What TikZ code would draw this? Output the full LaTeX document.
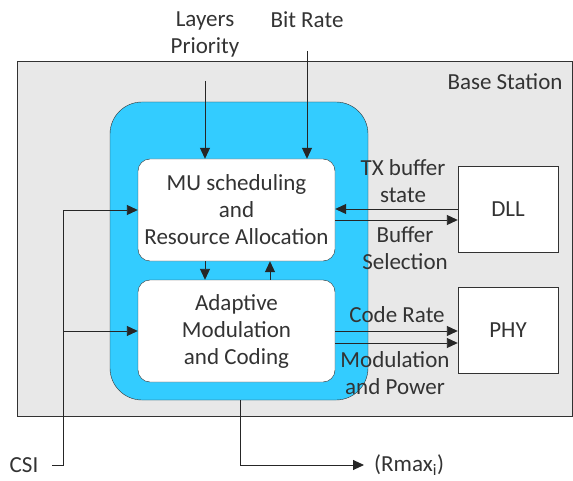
\documentclass[tikz,border=0pt]{standalone}
\usepackage{fontspec}
\setmainfont{Carlito}
\usepackage{tikz}
\usetikzlibrary{arrows.meta}
\definecolor{bsgray}{RGB}{232,232,232}
\definecolor{coreblue}{RGB}{51,204,255}
\definecolor{edge}{RGB}{50,50,50}

\begin{document}
\begin{tikzpicture}[x=1pt, y=1pt,
        every node/.style={font=\fontsize{23}{27}\selectfont, text=black!80},
        block/.style={draw=edge, fill=white, rounded corners=12pt, minimum width=197pt, minimum height=102pt, align=center, inner sep=0pt},
        unit/.style={draw=edge, fill=white, minimum width=100pt, minimum height=86pt, inner sep=0pt},
        lbl/.style={align=center, inner sep=0pt},
        link/.style={draw=black!85, line width=0.9pt, -{Triangle[length=11pt, width=10pt]}},
        wire/.style={draw=black!85, line width=0.9pt}]
        \useasboundingbox (0, 0) rectangle (573, 480);
        % base station and scheduler core
        \node[draw=edge, fill=bsgray, minimum width=555pt, minimum height=355pt, inner sep=0pt] (bs) at (294.5, 241.5) {};
        \node[lbl] (bslabel) at (505, 398) {Base Station};
        \node[draw=edge, fill=coreblue, rounded corners=32pt, minimum width=258pt, minimum height=298pt, inner sep=0pt] (core) at (239, 229) {};
        \node[block] (mu) at (236.5, 270) {MU scheduling\\and\\Resource Allocation};
        \node[block] (amc) at (236.5, 149) {Adaptive\\Modulation\\and Coding};
        \node[unit] (dll) at (508, 271) {DLL};
        \node[unit] (phy) at (508, 150) {PHY};
        % inputs on top
        \node[lbl] (prio) at (205, 446) {Layers\\Priority};
        \node[lbl] (rate) at (307, 460) {Bit Rate};
        \coordinate (prioin) at (205, 399);
        \coordinate (ratein) at (307, 429);
        \draw[link] (prioin) -- (prioin |- mu.north);
        \draw[link] (ratein) -- (ratein |- mu.north);
        % between the two blocks
        \draw[link] (205, 0 |- mu.south) -- (205, 0 |- amc.north);
        \draw[link] (270, 0 |- amc.north) -- (270, 0 |- mu.south);
        % DLL and PHY
        \draw[link] (dll.west |- 0, 271) -- (mu.east |- 0, 271);
        \draw[link] (mu.east |- 0, 260) -- (dll.west |- 0, 260);
        \draw[link] (amc.east |- 0, 149) -- (phy.west |- 0, 149);
        \draw[link] (amc.east |- 0, 137) -- (phy.west |- 0, 137);
        \node[lbl] (txbuf) at (403, 299) {TX buffer\\state};
        \node[lbl] (bufsel) at (405, 232) {Buffer\\Selection};
        \node[lbl] (coderate) at (397, 165) {Code Rate};
        \node[lbl] (modpow) at (395, 107) {Modulation\\and Power};
        % CSI feedback
        \node[lbl] (csi) at (24, 15) {CSI};
        \coordinate (csistart) at (52, 15);
        \coordinate (csibus) at (63, 15);
        \draw[wire] (csistart) -- (csibus) -- (63, 0 |- mu.west);
        \draw[link] (63, 0 |- mu.west) -- (mu.west);
        \draw[link] (63, 0 |- amc.west) -- (amc.west);
        % output
        \node[lbl, anchor=west] (rmax) at (374, 15) {(Rmax\textsubscript{i})};
        \coordinate (rmaxin) at (364, 15);
        \draw[link] (240, 0 |- core.south) -- (240, 15) -- (rmaxin);
    \end{tikzpicture}
\end{document}
